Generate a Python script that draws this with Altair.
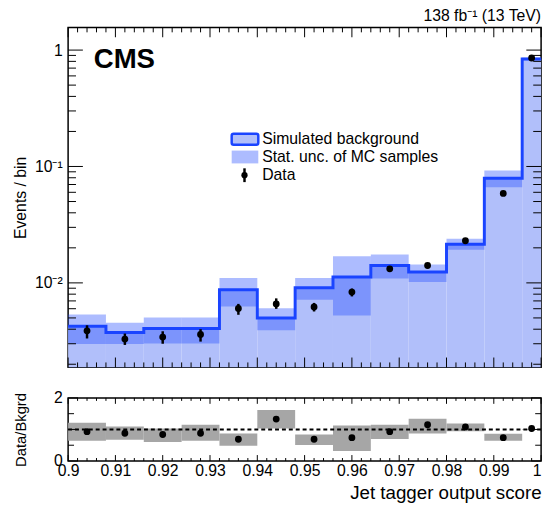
import altair as alt
import pandas as pd

# ---------------- data ----------------
bin_lo = [0.900, 0.908, 0.916, 0.924, 0.932, 0.940, 0.948, 0.956, 0.964, 0.972, 0.980, 0.988, 0.996]
bin_hi = [0.908, 0.916, 0.924, 0.932, 0.940, 0.948, 0.956, 0.964, 0.972, 0.980, 0.988, 0.996, 1.000]
bin_center = [0.904, 0.912, 0.920, 0.928, 0.936, 0.944, 0.952, 0.960, 0.968, 0.976, 0.984, 0.992, 0.998]

mc_bkg = [0.00424, 0.00375, 0.00405, 0.00405, 0.00873, 0.00500, 0.00907, 0.01124, 0.0141, 0.0124, 0.0215, 0.0791, 0.839]
mc_unc_up = [0.00536, 0.00455, 0.00505, 0.00505, 0.0110, 0.00606, 0.0110, 0.0169, 0.0175, 0.0144, 0.0239, 0.0922, 0.862]
mc_unc_dn = [0.00298, 0.00298, 0.00302, 0.00302, 0.00626, 0.00392, 0.00718, 0.00525, 0.0109, 0.0102, 0.0193, 0.0662, 0.818]

data_val = [0.00387, 0.00329, 0.00342, 0.00360, 0.00602, 0.00660, 0.00622, 0.00834, 0.0132, 0.0141, 0.0230, 0.0587, 0.855]
data_err_up = [0.00432, 0.00367, 0.00384, 0.00400, 0.00660, 0.00736, 0.00673, 0.00895, 0.0137, 0.0146, 0.0236, 0.0597, 0.860]
data_err_dn = [0.00333, 0.00293, 0.00300, 0.00313, 0.00532, 0.00598, 0.00568, 0.00765, 0.0127, 0.0136, 0.0224, 0.0577, 0.850]

ratio_val = [0.93, 0.88, 0.84, 0.88, 0.69, 1.33, 0.69, 0.74, 0.93, 1.15, 1.08, 0.74, 1.03]
ratio_band_up = [1.21, 1.09, 1.03, 1.15, 0.875, 1.62, 0.84, 1.125, 1.15, 1.34, 1.19, 0.865, 1.01]
ratio_band_dn = [0.64, 0.67, 0.60, 0.64, 0.48, 1.03, 0.51, 0.32, 0.70, 0.875, 0.94, 0.64, 0.99]

x_major = [0.9, 0.91, 0.92, 0.93, 0.94, 0.95, 0.96, 0.97, 0.98, 0.99, 1.0]
x_minor = [round(0.9 + 0.002 * i, 3) for i in range(51) if i % 5]
y_major = [0.01, 0.1, 1.0]
y_minor = [m * 10.0 ** e for e in (-3, -2, -1) for m in range(2, 10)]
r_major = [0.0, 1.0, 2.0]
r_minor = [0.5, 1.5]

# ---------------- style ----------------
W, H, RH = 480, 345, 64
YMIN, YMAX = 0.00188, 1.566
FILL = "#b1bffa"
LINE = "#1a44ff"
UNC = "#2850ff"
FONT = "Liberation Sans"

hist = pd.DataFrame(dict(lo=bin_lo, hi=bin_hi, c=bin_center, mc=mc_bkg, up=mc_unc_up,
                         dn=mc_unc_dn, d=data_val, dup=data_err_up, ddn=data_err_dn,
                         r=ratio_val, rup=ratio_band_up, rdn=ratio_band_dn))
step = pd.DataFrame(dict(e=bin_lo + [bin_hi[-1]], v=mc_bkg + [mc_bkg[-1]]))

xs = alt.Scale(domain=[0.9, 1.0], nice=False, zero=False)
ys = alt.Scale(type="log", domain=[YMIN, YMAX], nice=False)
rs = alt.Scale(domain=[0, 2], nice=False, zero=False)

yaxis = alt.Axis(values=y_major, title="Events / bin", grid=False, ticks=False, tickSize=0,
                 domain=False, labelFontSize=16, titleFontSize=16, labelPadding=6,
                 minExtent=32, maxExtent=32, titlePadding=8, titleFontWeight="normal",
                 labelExpr="datum.value >= 0.5 ? '1' : (datum.value >= 0.05 ? '10⁻¹' : '10⁻²')")
raxis = alt.Axis(values=r_major, title="Data/Bkgrd", grid=False, ticks=False, tickSize=0,
                 domain=False, labelFontSize=16, titleFontSize=15, labelPadding=6,
                 minExtent=32, maxExtent=32, titlePadding=8, titleFontWeight="normal",
                 format="d")
xaxis = alt.Axis(values=x_major, title="Jet tagger output score", grid=False, ticks=False,
                 tickSize=0, domain=False, labelFontSize=16, labelPadding=2, labelFlush=False,
                 labelOverlap=False, format=".2~f", titleFontSize=19, titleAnchor="end",
                 titlePadding=5, titleFontWeight="normal",
                 labelAlign={"condition": {"test": "datum.value >= 0.999", "value": "right"},
                             "value": "center"})


def Y(f):
    return alt.Y(f, type="quantitative", scale=ys, axis=yaxis)


def R(f):
    return alt.Y(f, type="quantitative", scale=rs, axis=raxis)


def XT(f):
    return alt.X(f, type="quantitative", scale=xs, axis=None)


def XR(f):
    return alt.X(f, type="quantitative", scale=xs, axis=xaxis)


one = pd.DataFrame({"a": [0]})


def xticks(vals, length, height, X):
    df = pd.DataFrame({"t": vals})
    bot = alt.Chart(df).mark_rule(color="black", strokeWidth=1).encode(
        x=X("t"), y=alt.value(height), y2=alt.value(height - length))
    top = alt.Chart(df).mark_rule(color="black", strokeWidth=1).encode(
        x=X("t"), y=alt.value(0), y2=alt.value(length))
    return [bot, top]


def yticks(vals, length, enc):
    df = pd.DataFrame({"t": vals})
    left = alt.Chart(df).mark_rule(color="black", strokeWidth=1).encode(
        y=enc("t"), x=alt.value(0), x2=alt.value(length))
    right = alt.Chart(df).mark_rule(color="black", strokeWidth=1).encode(
        y=enc("t"), x=alt.value(W), x2=alt.value(W - length))
    return [left, right]


# ---------------- top panel ----------------
fill = alt.Chart(hist).mark_rect(color=FILL).encode(x=XT("lo"), x2="hi", y=Y("mc"), y2=alt.datum(YMIN))
unc = alt.Chart(hist).mark_rect(color=UNC, opacity=0.38).encode(x=XT("lo"), x2="hi", y=Y("dn"), y2="up")
line = alt.Chart(step).mark_line(color=LINE, strokeWidth=3, interpolate="step-after").encode(
    x=XT("e"), y=Y("v"))
errs = alt.Chart(hist).mark_rule(color="black", strokeWidth=2.5).encode(x=XT("c"), y=Y("ddn"), y2="dup")
pts = alt.Chart(hist).mark_circle(color="black", opacity=1, size=48).encode(x=XT("c"), y=Y("d"))

ticks_top = (xticks(x_major, 10, H, XT) + xticks(x_minor, 5, H, XT) +
             yticks(y_major, 15, Y) + yticks(y_minor, 8, Y))

cms = alt.Chart(one).mark_text(text="CMS", fontSize=28, fontWeight="bold", align="left",
                               baseline="alphabetic", font=FONT).encode(
    x=alt.value(26), y=alt.value(41))
lumi = alt.Chart(one).mark_text(text="138 fb⁻¹  (13 TeV)", fontSize=16, align="right",
                                baseline="alphabetic", font=FONT).encode(
    x=alt.value(W), y=alt.value(-7))

leg_bg = alt.Chart(one).mark_rect(fill=FILL, stroke=LINE, strokeWidth=2.5, cornerRadius=2).encode(
    x=alt.value(166), x2=alt.value(193), y=alt.value(108), y2=alt.value(119))
leg_unc = alt.Chart(one).mark_rect(color=UNC, opacity=0.38).encode(
    x=alt.value(166), x2=alt.value(193), y=alt.value(125), y2=alt.value(138))
leg_err = alt.Chart(one).mark_rule(color="black", strokeWidth=2.5).encode(
    x=alt.value(179), y=alt.value(143), y2=alt.value(157))
leg_pt = alt.Chart(one).mark_circle(color="black", opacity=1, size=40).encode(
    x=alt.value(179), y=alt.value(150))
leg_txt = [
    alt.Chart(one).mark_text(text=t, fontSize=16, align="left", baseline="middle", font=FONT).encode(
        x=alt.value(197), y=alt.value(yy))
    for t, yy in [("Simulated background", 113), ("Stat. unc. of MC samples", 131.5), ("Data", 150)]
]

top = alt.layer(fill, unc, line, *ticks_top, errs, pts, cms, lumi,
                leg_bg, leg_unc, leg_err, leg_pt, *leg_txt).properties(width=W, height=H)

# ---------------- ratio panel ----------------
band = alt.Chart(hist).mark_rect(color="#a6a6a6").encode(
    x=XR("lo"), x2="hi", y=R("rdn"), y2="rup")
unity = alt.Chart(one).mark_rule(color="black", strokeWidth=2, strokeDash=[4, 3]).encode(
    y=alt.Y(datum=1, scale=rs, axis=raxis))
rpts = alt.Chart(hist).mark_circle(color="black", opacity=1, size=48).encode(
    x=XR("c"), y=R("r"))
ticks_r = (xticks(x_major, 6, RH, XR) + xticks(x_minor, 3, RH, XR) +
           yticks(r_major, 10, R) + yticks(r_minor, 6, R))
ratio = alt.layer(band, unity, rpts, *ticks_r).properties(width=W, height=RH)

chart = alt.vconcat(top, ratio, spacing=20).properties(
    padding={"left": 4, "top": -5, "right": 0, "bottom": 0}
).configure(font=FONT).configure_view(stroke="black", strokeWidth=1.5).configure_axis(
    labelColor="black", titleColor="black", labelFont=FONT, titleFont=FONT)

chart.save("out.html", embed_options={"renderer": "svg", "actions": False})
